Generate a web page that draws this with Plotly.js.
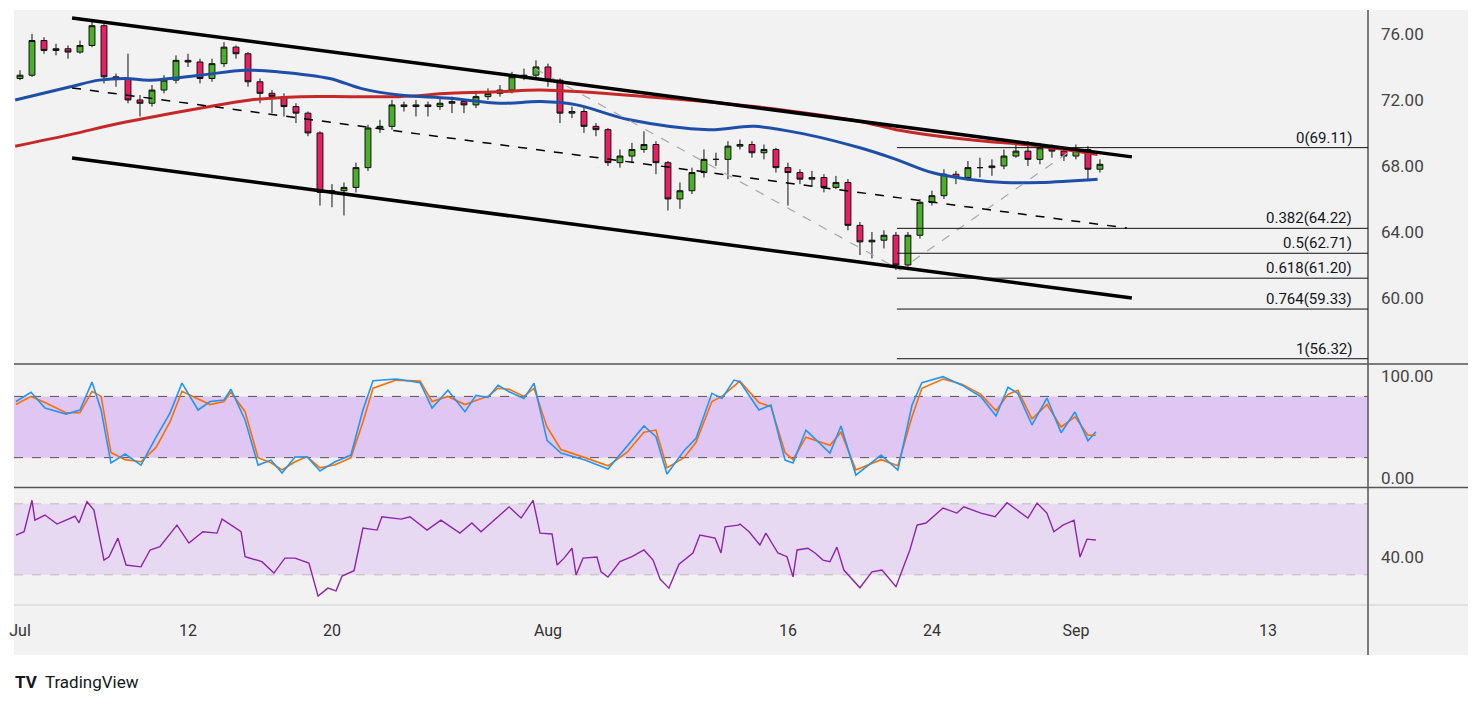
<!DOCTYPE html>
<html><head><meta charset="utf-8">
<script src="https://cdn.plot.ly/plotly-3.0.1.min.js"></script>
<style>html,body{margin:0;padding:0;background:#fff}#chart{width:1479px;height:708px}</style>
</head><body><div id="chart"></div>
<script>
// time axis in trading days, 0 = Jul 1; candles every half day
const closes=[73.5,75.6,75.0,75.1,74.9,75.3,76.5,73.4,73.3,72.0,71.8,72.6,73.2,74.4,74.3,73.3,74.2,75.2,74.8,73.1,
72.4,72.2,71.6,71.2,70.0,66.4,66.5,66.7,67.9,70.3,70.4,71.7,71.6,71.7,71.6,71.8,71.9,71.7,72.2,72.4,
72.6,73.4,73.5,74.0,73.2,71.2,71.3,70.4,70.2,68.2,68.6,69.0,69.3,68.2,66.0,66.5,67.6,68.4,68.4,69.2,
69.3,68.8,69.0,67.9,67.6,67.2,67.3,66.7,67.0,64.4,63.4,63.5,63.8,62.0,63.8,65.8,66.2,67.5,67.3,67.9,
67.9,68.0,68.6,68.9,68.4,69.1,68.9,68.6,69.0,67.8,68.1];
const highs=[73.8,76.0,75.8,75.4,75.3,75.6,76.8,76.6,73.6,74.8,72.3,72.9,73.5,74.7,74.8,74.5,74.5,75.5,75.3,74.9,
73.3,72.6,72.4,71.8,71.3,70.1,66.9,67.0,68.2,70.5,70.8,72.0,71.9,72.0,71.9,72.1,72.2,72.0,72.5,72.7,
72.9,73.7,73.9,74.4,74.2,73.3,71.6,71.5,70.6,70.3,69.0,69.4,70.1,69.5,68.3,67.0,67.9,69.0,68.8,69.5,
69.6,69.5,69.3,69.1,68.2,67.8,67.7,67.5,67.4,67.2,64.6,64.0,64.1,64.0,64.0,66.0,66.5,67.8,67.7,68.3,
68.5,68.4,69.0,69.3,69.5,69.4,69.3,69.0,69.3,69.2,68.4];
const lows=[73.2,73.4,74.8,74.7,74.5,74.8,75.2,73.0,72.8,71.8,71.0,71.6,72.4,73.0,74.0,73.0,73.1,74.0,74.5,72.8,
71.8,71.2,71.0,70.6,69.8,65.6,65.5,65.0,66.4,67.7,70.0,70.2,71.3,71.0,71.0,71.4,71.2,71.2,71.5,72.0,
72.2,72.4,73.2,73.3,72.8,70.6,70.9,70.0,69.8,68.0,67.9,68.2,68.8,67.5,65.3,65.4,66.3,67.3,68.0,67.2,
69.0,68.5,68.4,67.6,65.6,66.9,66.8,66.4,66.6,64.1,62.6,62.4,63.0,61.7,61.9,63.6,65.6,66.0,66.9,67.1,
67.3,67.4,67.8,68.5,68.0,68.1,68.5,68.3,68.4,67.2,67.6];
const firstOpen=73.3;

const blueT=[-0.2,2.1,3.3,4.4,5.4,7.5,9.4,10.8,12.9,14.2,15.8,17.9,20,21.7,23.2,25.4,28.7,30.6,32.8,35,36.5,38,39.5,41,42.5,44.9];
const blueV=[72,72.8,73.2,73.3,73.2,73.5,73.8,73.7,73.3,72.7,72.3,72.1,71.8,71.9,71.7,70.8,70.2,70.4,69.9,69.1,68.4,67.6,67.2,67,67,67.2];
const redT=[-0.2,2.1,4.2,7.5,9.6,11.7,13.75,15.8,17.9,20,21.7,26.1,30.6,35,36.5,39.5,42.5,44.9];
const redV=[69.2,69.9,70.6,71.5,72,72.2,72.2,72.2,72.4,72.5,72.6,72.2,71.6,70.7,70.2,69.6,69.2,68.7];

// channel: [t0, p0, t1, p1]
const chanUpper=[2.17,76.97,46.33,68.55];
const chanLower=[2.17,68.48,46.33,60.0];
const chanMid=[2.17,72.73,46.12,64.24];

const fibPathT=[21.46,36.67,43.96];
const fibPathP=[73.9,61.7,69.11];
const fibStart=36.54;
const fibRatios=["0","0.382","0.5","0.618","0.764","1"];
const fibLevels=[69.11,64.22,62.71,61.20,59.33,56.32];

const stochT=[-0.17,0.46,1.04,1.92,2.5,3,3.38,3.79,4.38,5.04,5.67,6.25,6.75,7.42,7.92,8.5,8.79,9.38,9.92,10.46,
10.92,11.46,11.96,12.5,13.13,13.79,14.29,14.71,15.67,16.67,17.17,17.83,18.54,19,19.5,19.92,20.38,21,21.42,21.96,
22.54,23.54,24.5,25.29,26,26.5,26.96,27.67,28.17,28.83,29.25,29.75,30,30.79,31.29,31.88,32.21,32.75,33.75,34.21,
34.83,35.88,36.58,37.17,37.58,38.46,39.25,40.04,40.67,41.17,41.58,42.17,42.79,43.38,43.96,44.5,44.83];
const stochK=[75,84,68.6,62.7,66.7,94,66.7,14.7,23.5,12.7,40,63.7,93,66.7,75,76.5,87,56.9,12.7,17.6,
4.9,20.6,20.9,6.9,16,22.5,66.7,95.4,97,93.4,68.6,86,65,81,79,91,84.6,78,93,37,
24.5,17.6,8.8,30.7,51,40.5,3.9,26.8,39,83,78,96,94.4,66.7,71.6,17.6,14.7,47,24.5,51,
2.9,22.5,7.8,71.6,93.4,99.3,91,79.7,60.8,89,83,52,78.4,44.4,64.7,36.6,45.4];
const stochD=[72,80,74,64,64,85,80,25,18,16,30,55,85,78,72,75,84,65,20,15,
8,16,21,10,13,20,55,88,96,95,75,80,72,76,80,88,87,80,88,50,
28,20,12,25,45,47,10,20,35,75,80,90,95,74,70,25,18,40,32,45,
8,18,12,60,88,97,92,82,66,82,86,58,72,50,60,42,42];

const rsiT=[-0.17,0.17,0.5,0.62,1.04,1.54,2.29,2.46,2.79,3.08,3.5,3.71,4.08,4.42,5.04,5.42,5.83,6.54,7.04,7.62,
8.21,8.42,9.21,9.38,10.08,10.58,11.04,11.46,12.04,12.42,12.83,13.17,13.42,13.92,14.29,14.88,15.08,15.88,16.25,16.96,
17.54,18.33,18.83,19.21,20,20.38,20.88,21.38,21.67,22.17,22.38,22.67,23,23.17,23.46,24.04,24.21,24.5,25,25.5,
26,26.38,26.67,27.04,27.46,28.04,28.33,28.96,29.21,29.38,29.92,30,30.38,30.83,31.08,31.58,31.96,32.21,32.38,32.83,
33.13,33.46,33.75,34.04,34.33,35,35.5,35.92,36.5,37.08,37.38,37.75,38.46,39.04,39.33,40.04,40.63,41.13,42,42.38,
42.79,43.08,43.46,43.92,44.17,44.46,44.83];
const rsiV=[52.4,54.3,72,60.8,63.7,58.6,63,59.3,71.2,66.5,38.3,40.2,50.7,35.5,34.5,44,45.8,58,47.9,54.3,
53.5,61.4,54.3,40.2,37.4,31,39.4,39.4,36.6,18,22.5,21,29.3,32.3,56.3,55.2,62.7,61.4,62.7,55.2,
60.8,53.5,59.2,54.3,63.7,68.3,62,72,53.5,53,35.5,39.4,45,29.9,39.4,40,31.7,28.7,37.4,40.2,
44,38.3,27.6,22.5,36,42.3,52.4,50.7,42.3,57,58,58.6,54.3,46.8,53.5,42.3,40.2,28.9,44,45,
42.3,38.3,37.4,45.6,32.7,22.7,31.7,32.7,23.3,44,58,59.2,67.6,64.8,68.3,64.8,62.7,70.6,62,70.4,
64.8,54.3,58,60.8,40,50.1,49.6];

const tickT=[0,7,13,22,32,38,44,52];
const tickText=["Jul","12","20","Aug","16","24","Sep","13"];

const candleT=closes.map((c,i)=>i*0.5);
const opens=closes.map((c,i)=>i?closes[i-1]:firstOpen);

const traces=[
  {type:"scatter",x:redT,y:redV,mode:"lines",line:{color:"#c62828",width:3,shape:"spline"},hoverinfo:"skip"},
  {type:"scatter",x:blueT,y:blueV,mode:"lines",line:{color:"#1e4fa8",width:3,shape:"spline"},hoverinfo:"skip"},
  {type:"scatter",x:fibPathT,y:fibPathP,mode:"lines",line:{color:"#a8a8a8",width:1.2,dash:"dash"},hoverinfo:"skip"},
  {type:"candlestick",x:candleT,open:opens,high:highs,low:lows,close:closes,whiskerwidth:0,
   increasing:{line:{color:"#111",width:1},fillcolor:"#4caf2a"},
   decreasing:{line:{color:"#111",width:1},fillcolor:"#e91e63"},hoverinfo:"skip"},
  {type:"scatter",x:stochT,y:stochD,yaxis:"y2",mode:"lines",line:{color:"#ff6d00",width:1.6},hoverinfo:"skip"},
  {type:"scatter",x:stochT,y:stochK,yaxis:"y2",mode:"lines",line:{color:"#2196f3",width:1.6},hoverinfo:"skip"},
  {type:"scatter",x:rsiT,y:rsiV,yaxis:"y3",mode:"lines",line:{color:"#8e24aa",width:1.4},hoverinfo:"skip"}
];

const seg=(a,w,dash)=>({type:"line",xref:"x",yref:"y",x0:a[0],y0:a[1],x1:a[2],y1:a[3],line:{color:"#000",width:w,dash:dash||"solid"}});
const shapes=[
  {type:"rect",xref:"paper",yref:"paper",x0:0,x1:1.0739,y0:-0.084,y1:1,fillcolor:"#f2f2f2",line:{width:0},layer:"below"},
  {type:"rect",xref:"paper",yref:"y2",x0:0,x1:1,y0:20,y1:80,fillcolor:"#dfc6f3",line:{width:0},layer:"below"},
  {type:"line",xref:"paper",yref:"y2",x0:0,x1:1,y0:80,y1:80,line:{color:"#555",width:1,dash:"dash"},layer:"below"},
  {type:"line",xref:"paper",yref:"y2",x0:0,x1:1,y0:20,y1:20,line:{color:"#555",width:1,dash:"dash"},layer:"below"},
  {type:"rect",xref:"paper",yref:"y3",x0:0,x1:1,y0:30,y1:70,fillcolor:"#e8d9f3",line:{width:0},layer:"below"},
  {type:"line",xref:"paper",yref:"y3",x0:0,x1:1,y0:70,y1:70,line:{color:"#bbb",width:1,dash:"dash"},layer:"below"},
  {type:"line",xref:"paper",yref:"y3",x0:0,x1:1,y0:30,y1:30,line:{color:"#bbb",width:1,dash:"dash"},layer:"below"},
  {type:"line",xref:"paper",yref:"paper",x0:0,x1:1.0739,y0:0.405,y1:0.405,line:{color:"#555",width:1.5}},
  {type:"line",xref:"paper",yref:"paper",x0:0,x1:1.0739,y0:0.1975,y1:0.1975,line:{color:"#555",width:1.5}},
  {type:"line",xref:"paper",yref:"paper",x0:0,x1:1.0739,y0:0,y1:0,line:{color:"#ccc",width:1}},
  {type:"line",xref:"paper",yref:"paper",x0:1,x1:1,y0:-0.084,y1:1,line:{color:"#555",width:1.5}},
  seg(chanUpper,3.5),seg(chanLower,3.5),seg(chanMid,1.5,"dash")
];
fibLevels.forEach(v=>shapes.push({type:"line",xref:"x",yref:"y",x0:fibStart,x1:56.17,y0:v,y1:v,line:{color:"#111",width:1}}));

const annotations=fibLevels.map((v,i)=>({xref:"x",yref:"y",x:55.6,y:v,xanchor:"right",yanchor:"bottom",showarrow:false,
  text:fibRatios[i]+"("+v.toFixed(2)+")",font:{size:15,color:"#131722"},yshift:-1}));
annotations.push({xref:"paper",yref:"paper",x:-0.001,y:-0.13,xanchor:"left",yanchor:"middle",showarrow:false,
  text:"<b>TV</b>  TradingView",font:{size:17,color:"#131722"}});

const yax=(dom,rng,vals)=>({domain:dom,range:rng,side:"right",tickvals:vals,tickformat:".2f",showgrid:false,zeroline:false,
  ticks:"",ticklabelstandoff:12,tickfont:{size:17,color:"#444",family:"Roboto, sans-serif"},fixedrange:true,showline:false});

const layout={
  width:1479,height:708,margin:{l:14,r:111,t:10,b:103},paper_bgcolor:"#fff",plot_bgcolor:"rgba(0,0,0,0)",
  showlegend:false,font:{family:"Roboto, sans-serif"},
  xaxis:{range:[-0.25,56.17],anchor:"y3",tickvals:tickT,ticktext:tickText,showgrid:false,zeroline:false,ticks:"",
    ticklabelstandoff:14,tickfont:{size:16,color:"#333"},rangeslider:{visible:false},showline:false},
  yaxis:yax([0.4067,1],[56.06,77.45],[60,64,68,72,76]),
  yaxis2:yax([0.1983,0.4034],[-8.8,110.8],[0,100]),
  yaxis3:yax([0,0.1966],[13,78.9],[40]),
  shapes:shapes,annotations:annotations
};
Plotly.newPlot("chart",traces,layout,{displayModeBar:false,staticPlot:true});
</script></body></html>
